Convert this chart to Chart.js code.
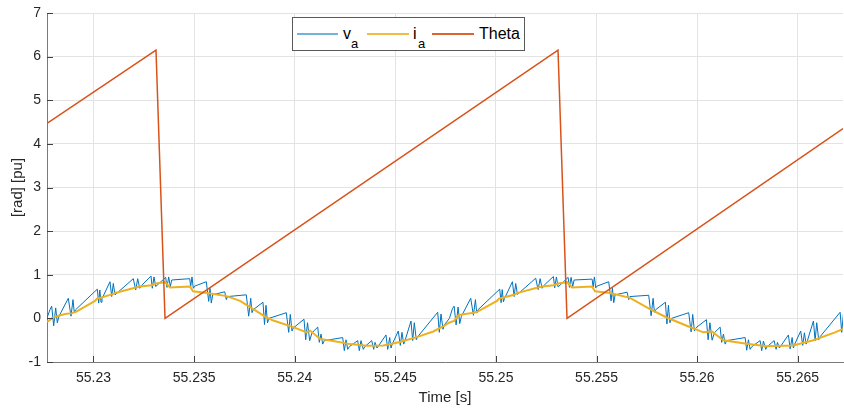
<!DOCTYPE html>
<html>
<head>
<meta charset="utf-8">
<script src="https://cdn.jsdelivr.net/npm/chart.js@4.4.1/dist/chart.umd.min.js"></script>
<style>
  html, body { margin:0; padding:0; background:#fff; }
  #wrap { position:relative; width:844px; height:409px; }
  #legend { position:absolute; left:292px; top:17px; width:231px; height:32px; border:1px solid #595959; background:#fff;
            font-family:"Liberation Sans", Arial, sans-serif; color:#000; }
  #legend .ln { position:absolute; height:2px; top:15px; }
  #legend .tx { position:absolute; font-size:16px; line-height:16px; white-space:nowrap; }
  #legend .sb { position:absolute; font-size:13px; line-height:13px; white-space:nowrap; }
</style>
</head>
<body>
<div id="wrap">
  <canvas id="c" width="844" height="409"></canvas>
  <div id="legend">
    <div class="ln" style="left:4px;width:41px;background:#0072BD;opacity:0.55"></div>
    <span class="tx" style="left:50px;top:8px">v</span><span class="sb" style="left:58px;top:19px">a</span>
    <div class="ln" style="left:74px;width:42px;background:#EDB120;opacity:0.85"></div>
    <span class="tx" style="left:120px;top:8px">i</span><span class="sb" style="left:125px;top:19px">a</span>
    <div class="ln" style="left:139px;width:42px;background:#D95319;opacity:0.9"></div>
    <span class="tx" style="left:186px;top:8px">Theta</span>
  </div>
</div>
<script>
// ---- data ----
const xTicks = [55.23, 55.235, 55.24, 55.245, 55.25, 55.255, 55.26, 55.265];
const xTickLabels = ['55.23', '55.235', '55.24', '55.245', '55.25', '55.255', '55.26', '55.265'];
const yTicks = [-1, 0, 1, 2, 3, 4, 5, 6, 7];

const vaTime = [
  55.227689, 55.227838, 55.227922, 55.228022, 55.228121, 55.228201, 55.228285,
  55.228748, 55.228882, 55.228981, 55.229046, 55.229115,
  55.230189, 55.230258, 55.230313, 55.230373, 55.230422,
  55.230820, 55.230905, 55.230984, 55.231069,
  55.231978, 55.232097, 55.232197, 55.232296, 55.232396,
  55.232858, 55.232922, 55.233007, 55.233091,
  55.233588, 55.233653, 55.233737, 55.233817, 55.233887,
  55.234781, 55.234831, 55.234895, 55.234960, 55.235030,
  55.235606, 55.235725, 55.235790, 55.235855, 55.235924,
  55.236521, 55.236600, 55.236660,
  55.237594, 55.237713, 55.237813, 55.237877, 55.237942,
  55.238424, 55.238499, 55.238573, 55.238648, 55.238722,
  55.239582, 55.239701, 55.239781, 55.239865, 55.239930,
  55.240462, 55.240546, 55.240636, 55.240745, 55.240859,
  55.241143, 55.241222, 55.241307, 55.241391, 55.241471,
  55.242385, 55.242465, 55.242549, 55.242634, 55.242713,
  55.243131, 55.243210, 55.243295, 55.243409, 55.243479,
  55.243827, 55.243926, 55.243991, 55.244090,
  55.244537, 55.244622, 55.244721, 55.244786, 55.244850,
  55.245149, 55.245248, 55.245332, 55.245417, 55.245482,
  55.245780, 55.245864, 55.245944, 55.246043, 55.246113,
  55.247107, 55.247186, 55.247271, 55.247370, 55.247435,
  55.247689, 55.247838, 55.247922, 55.248022, 55.248121, 55.248201, 55.248285,
  55.248748, 55.248882, 55.248981, 55.249046, 55.249115,
  55.250189, 55.250258, 55.250313, 55.250373, 55.250422,
  55.250820, 55.250905, 55.250984, 55.251069,
  55.251978, 55.252097, 55.252197, 55.252296, 55.252396,
  55.252858, 55.252922, 55.253007, 55.253091,
  55.253588, 55.253653, 55.253737, 55.253817, 55.253887,
  55.254781, 55.254831, 55.254895, 55.254960, 55.255030,
  55.255606, 55.255725, 55.255790, 55.255855, 55.255924,
  55.256521, 55.256600, 55.256660,
  55.257594, 55.257713, 55.257813, 55.257877, 55.257942,
  55.258424, 55.258499, 55.258573, 55.258648, 55.258722,
  55.259582, 55.259701, 55.259781, 55.259865, 55.259930,
  55.260462, 55.260546, 55.260636, 55.260745, 55.260859,
  55.261143, 55.261222, 55.261307, 55.261391, 55.261471,
  55.262385, 55.262465, 55.262549, 55.262634, 55.262713,
  55.263131, 55.263210, 55.263295, 55.263409, 55.263479,
  55.263827, 55.263926, 55.263991, 55.264090,
  55.264537, 55.264622, 55.264721, 55.264786, 55.264850,
  55.265149, 55.265248, 55.265332, 55.265417, 55.265482,
  55.265780, 55.265864, 55.265944, 55.266043, 55.266113,
  55.267107, 55.267186, 55.267271
];
const vaValue = [
  0.01, 0.20, 0.28, -0.17, 0.24, -0.10, 0.05,
  0.46, 0.05, 0.43, 0.13, 0.20,
  0.67, 0.35, 0.65, 0.37, 0.45,
  0.84, 0.50, 0.80, 0.54,
  0.91, 0.65, 0.91, 0.69, 0.76,
  0.97, 0.69, 0.95, 0.73,
  0.94, 0.71, 0.95, 0.73, 0.88,
  0.91, 0.73, 0.95, 0.69, 0.74,
  0.84, 0.39, 0.69, 0.35, 0.54,
  0.61, 0.43, 0.50,
  0.54, 0.05, 0.46, 0.13, 0.20,
  0.37, -0.14, 0.30, -0.10, 0.00,
  0.13, -0.32, 0.09, -0.29, -0.22,
  -0.02, -0.49, -0.10, -0.51, -0.33,
  -0.20, -0.55, -0.36, -0.59, -0.51,
  -0.44, -0.74, -0.49, -0.71, -0.65,
  -0.51, -0.74, -0.51, -0.71, -0.65,
  -0.51, -0.71, -0.55, -0.68,
  -0.38, -0.71, -0.44, -0.68, -0.59,
  -0.29, -0.62, -0.32, -0.59, -0.51,
  -0.06, -0.51, -0.10, -0.49, -0.42,
  0.14, -0.32, 0.10, -0.25, -0.15,
  0.00, 0.22, 0.28, -0.15, 0.26, -0.12, 0.05,
  0.46, 0.07, 0.43, 0.12, 0.20,
  0.67, 0.36, 0.66, 0.38, 0.45,
  0.84, 0.50, 0.80, 0.55,
  0.92, 0.66, 0.91, 0.69, 0.76,
  0.96, 0.70, 0.95, 0.72,
  0.94, 0.71, 0.94, 0.73, 0.88,
  0.90, 0.72, 0.95, 0.70, 0.74,
  0.84, 0.40, 0.69, 0.36, 0.54,
  0.60, 0.43, 0.50,
  0.53, 0.06, 0.46, 0.14, 0.20,
  0.37, -0.13, 0.30, -0.10, 0.00,
  0.13, -0.31, 0.09, -0.29, -0.22,
  -0.03, -0.49, -0.10, -0.50, -0.33,
  -0.20, -0.55, -0.36, -0.59, -0.51,
  -0.44, -0.73, -0.49, -0.71, -0.65,
  -0.51, -0.74, -0.52, -0.71, -0.65,
  -0.51, -0.71, -0.55, -0.68,
  -0.38, -0.70, -0.44, -0.68, -0.59,
  -0.29, -0.62, -0.33, -0.59, -0.51,
  -0.06, -0.51, -0.10, -0.49, -0.42,
  0.14, -0.32, 0.10
];

const iaTime = [
  55.227689, 55.227937, 55.228186, 55.228584, 55.228931, 55.229130, 55.230075, 55.230174,
  55.230919, 55.231069, 55.232063, 55.232311, 55.232907, 55.233106, 55.233554, 55.233802,
  55.234796, 55.234945, 55.235641, 55.236620, 55.237281, 55.237942, 55.238608, 55.238936,
  55.239930, 55.240596, 55.240760, 55.241257, 55.241918, 55.242748, 55.243578, 55.244403,
  55.245233, 55.246063, 55.246888, 55.247420,
  55.247668, 55.247917, 55.248165, 55.248911, 55.249110, 55.250054, 55.250154, 55.250899,
  55.251048, 55.252042, 55.252290, 55.252887, 55.253086, 55.253533, 55.253781, 55.254775,
  55.254925, 55.255670, 55.256664, 55.257658, 55.258488, 55.259482, 55.260307, 55.260739,
  55.261301, 55.262464, 55.263458, 55.264780, 55.265774, 55.266853, 55.267265
];
const iaValue = [
  -0.08, 0.00, 0.05, 0.10, 0.12, 0.15, 0.40, 0.45,
  0.55, 0.58, 0.70, 0.73, 0.76, 0.80, 0.83, 0.71,
  0.73, 0.62, 0.58, 0.51, 0.40, 0.21, 0.02, -0.05,
  -0.20, -0.32, -0.28, -0.47, -0.52, -0.59, -0.63, -0.62,
  -0.54, -0.43, -0.30, -0.17,
  -0.10, -0.06, 0.08, 0.13, 0.16, 0.40, 0.45, 0.54,
  0.58, 0.70, 0.73, 0.76, 0.80, 0.83, 0.71, 0.73,
  0.62, 0.58, 0.47, 0.21, 0.02, -0.17, -0.32, -0.30,
  -0.50, -0.58, -0.64, -0.62, -0.50, -0.32, -0.24
];

const thetaTime = [55.227689, 55.233106, 55.233554, 55.253086, 55.253533, 55.267250];
const thetaValue = [4.47, 6.15, 0.00, 6.15, 0.00, 4.35];

// ---- build ----
const pts = (t, v) => t.map((x, i) => ({ x: x, y: v[i] }));
const FONT = '"Liberation Sans", Arial, Helvetica, sans-serif';
const TXT = '#262626';

const inwardTicks = {
  id: 'inwardTicks',
  afterDraw(chart) {
    const ctx = chart.ctx, a = chart.chartArea;
    const xs = chart.scales.x, ys = chart.scales.y;
    ctx.save();
    ctx.strokeStyle = '#404040';
    ctx.lineWidth = 1;
    ctx.beginPath();
    xs.ticks.forEach(t => {
      const px = Math.round(xs.getPixelForValue(t.value)) + 0.5;
      ctx.moveTo(px, a.bottom); ctx.lineTo(px, a.bottom - 6);
    });
    ys.ticks.forEach(t => {
      const py = Math.round(ys.getPixelForValue(t.value)) + 0.5;
      ctx.moveTo(a.left, py); ctx.lineTo(a.left + 6, py);
    });
    ctx.stroke();
    ctx.restore();
  }
};

new Chart(document.getElementById('c'), {
  type: 'scatter',
  data: {
    datasets: [
      { label: 'Theta', data: pts(thetaTime, thetaValue), showLine: true, borderColor: '#D95319',
        borderWidth: 1.5, pointRadius: 0, tension: 0, order: 0 },
      { label: 'i_a', data: pts(iaTime, iaValue), showLine: true, borderColor: '#EDB120',
        borderWidth: 2, pointRadius: 0, tension: 0, order: 1 },
      { label: 'v_a', data: pts(vaTime, vaValue), showLine: true, borderColor: '#0072BD',
        borderWidth: 1, pointRadius: 0, tension: 0, order: 2 }
    ]
  },
  options: {
    responsive: false,
    animation: false,
    events: [],
    layout: { padding: { top: 7, right: 1, left: 0, bottom: 0 } },
    plugins: { legend: { display: false }, tooltip: { enabled: false } },
    scales: {
      x: {
        type: 'linear',
        min: 55.227689,
        max: 55.26725,
        afterBuildTicks: s => { s.ticks = xTicks.map(v => ({ value: v })); },
        afterFit: s => { s.height = 47; },
        ticks: {
          autoSkip: false, maxRotation: 0, padding: 9, color: TXT,
          font: { family: FONT, size: 14, lineHeight: 1 },
          callback: (v) => { const i = xTicks.indexOf(v); return i >= 0 ? xTickLabels[i] : ''; }
        },
        grid: { color: '#e3e3e3', drawTicks: false },
        border: { display: true, color: '#7a7a7a' },
        title: { display: true, text: 'Time [s]', color: TXT, font: { family: FONT, size: 15 }, padding: { top: 0, bottom: 2 } }
      },
      y: {
        type: 'linear',
        min: -1,
        max: 7,
        afterBuildTicks: s => { s.ticks = yTicks.map(v => ({ value: v })); },
        afterFit: s => { s.width = 47; },
        ticks: {
          padding: 6, color: TXT,
          font: { family: FONT, size: 14, lineHeight: 1 }
        },
        grid: { color: '#e3e3e3', drawTicks: false },
        border: { display: true, color: '#7a7a7a' },
        title: { display: true, text: '[rad] [pu]', color: TXT, font: { family: FONT, size: 15 }, padding: { top: 9, bottom: 0 } }
      }
    }
  },
  plugins: [inwardTicks]
});
</script>
</body>
</html>
